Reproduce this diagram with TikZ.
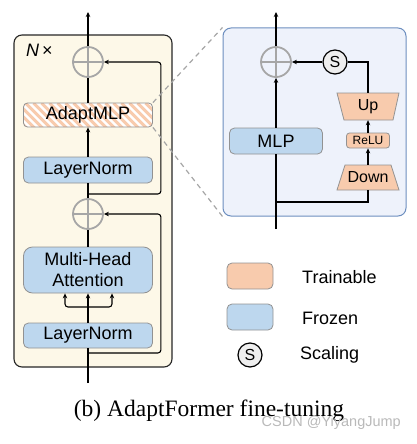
\documentclass[tikz,border=0pt]{standalone}
\usepackage{fontspec}
\setmainfont{Liberation Sans}
\newfontfamily\capfont{Liberation Serif}
\usetikzlibrary{arrows.meta}
\definecolor{cream}{HTML}{FDF8E8}
\definecolor{frozenblue}{HTML}{BDD7EE}
\definecolor{trainorange}{HTML}{F8CBAD}
\definecolor{boxedge}{HTML}{929292}
\definecolor{panelfill}{HTML}{EEF2FB}
\definecolor{paneledge}{HTML}{6C8EBF}
\definecolor{plusgray}{HTML}{A6A6A6}
\definecolor{sfill}{HTML}{EEEEEE}
\tikzset{
  conn/.style={line width=1.1pt, draw=black},
  arr/.style={conn, -{Stealth[length=5pt,width=4.5pt]}},
  plusnode/.style={circle, minimum size=30pt, inner sep=0pt, draw=plusgray, line width=1.8pt,
    path picture={\draw[plusgray, line width=1.8pt]
      (path picture bounding box.north) -- (path picture bounding box.south)
      (path picture bounding box.west) -- (path picture bounding box.east);}},
  bigfont/.style={font=\fontsize{18}{21}\selectfont},
  frozen/.style={draw=boxedge, fill=frozenblue, rounded corners=5pt, line width=0.8pt, inner sep=0pt, bigfont},
  trainbox/.style={draw=boxedge, fill=trainorange, line width=0.8pt},
  hatchbox/.style={draw=boxedge, fill=white, rounded corners=4pt, line width=0.8pt, inner sep=0pt, bigfont,
    minimum width=129pt, minimum height=24pt,
    path picture={\foreach \i in {-30,-22,...,140} {\draw[trainorange, line width=3pt]
      ([xshift=\i pt]path picture bounding box.north west) -- ++(26pt,-26pt);}}},
  blockst/.style={draw=black!85, line width=1.1pt, fill=cream, rounded corners=8pt, inner sep=0pt},
  panelst/.style={draw=paneledge, line width=1pt, fill=panelfill, rounded corners=8pt, inner sep=0pt},
  scircle/.style={circle, draw=black, line width=1.2pt, fill=sfill, minimum size=24pt, inner sep=0pt, font=\fontsize{16}{16}\selectfont},
  dashln/.style={draw=plusgray, line width=1.2pt, dash pattern=on 5pt off 4pt},
  legtext/.style={anchor=west, bigfont, inner sep=0pt},
}
\begin{document}
\begin{tikzpicture}[x=1pt,y=-1pt]
\useasboundingbox (0,0) rectangle (417,444);
% panels
\node[blockst, minimum width=158pt, minimum height=332pt] (blk) at (93,201) {};
\node[panelst, minimum width=183pt, minimum height=188pt] (pan) at (314.5,122) {};
\node[anchor=west, bigfont, inner sep=0pt] (nx) at (26,50) {\textit{N}\,×};

% left column
\node[plusnode] (p1) at (88,62) {};
\node[plusnode] (p2) at (88,214) {};
\node[hatchbox] (adapt) at (88,115) {AdaptMLP};
\node[frozen, minimum width=129pt, minimum height=26pt] (ln2) at (88,170) {LayerNorm};
\node[frozen, minimum width=129pt, minimum height=46pt, rounded corners=9pt, align=center] (att) at (88,270) {Multi-Head\\Attention};
\node[frozen, minimum width=129pt, minimum height=25pt] (ln1) at (88,335.5) {LayerNorm};

\coordinate (in) at (88,383);
\coordinate (out) at (88,12);
\coordinate (s2) at (88,353);
\coordinate (s1) at (88,194);
\coordinate (sp) at (88,307);

\draw[conn] (in) -- (ln1.south);
\draw[arr] (ln1.north) -- (att.south);
\draw[arr, rounded corners=3pt] (sp) -| ([xshift=-23pt]att.south);
\draw[arr, rounded corners=3pt] (sp) -| ([xshift=24pt]att.south);
\draw[conn] (att.north) -- (p2.south);
\draw[conn] (p2.north) -- (ln2.south);
\draw[arr] (ln2.north) -- (adapt.south);
\draw[conn] (adapt.north) -- (p1.south);
\draw[arr] (p1.north) -- (out);
\draw[arr, rounded corners=3pt] (s2) -| ([xshift=57pt]p2.east) -- (p2.east);
\draw[arr, rounded corners=3pt] (s1) -| ([xshift=57pt]p1.east) -- (p1.east);

% dashed zoom lines
\draw[dashln] (adapt.north east) -- (pan.north west);
\draw[dashln] (adapt.south east) -- (pan.south west);

% right column
\node[plusnode] (p3) at (276,62) {};
\node[scircle] (sc) at (335,62) {S};
\node[frozen, minimum width=93pt, minimum height=26pt] (mlp) at (276,141) {MLP};
\draw[trainbox] (337,93) -- (399,93) -- (393,120) -- (344,120) -- cycle;
\node[inner sep=0pt, minimum width=49pt, minimum height=27pt, font=\fontsize{16}{16}\selectfont] (up) at (368,106.5) {Up};
\node[trainbox, rounded corners=3pt, inner sep=0pt, minimum width=43pt, minimum height=15pt, font=\fontsize{12}{12}\selectfont] (relu) at (368,140.5) {ReLU};
\draw[trainbox] (345,165) -- (391,165) -- (399,190) -- (337,190) -- cycle;
\node[inner sep=0pt, minimum width=49pt, minimum height=25pt, font=\fontsize{16}{16}\selectfont] (down) at (368,177.5) {Down};

\coordinate (rin) at (276,229);
\coordinate (rout) at (276,12);
\coordinate (rb) at (276,202);
\draw[conn] (rin) -- (mlp.south);
\draw[arr] (mlp.north) -- (p3.south);
\draw[arr] (p3.north) -- (rout);
\draw[conn] (rb) -| (down.south);
\draw[arr] (down.north) -- (relu.south);
\draw[arr] (relu.north) -- (up.south);
\draw[conn] (up.north) |- (sc.east);
\draw[arr] (sc.west) -- (p3.east);

% legend
\node[trainbox, rounded corners=5pt, minimum width=46pt, minimum height=26pt, inner sep=0pt] (ltr) at (250,276) {};
\node[frozen, minimum width=46pt, minimum height=26pt] (lfr) at (250,317) {};
\node[scircle] (lsc) at (250,355) {S};
\node[legtext] (ttr) at (302,277) {Trainable};
\node[legtext] (tfr) at (302,318) {Frozen};
\node[legtext] (tsc) at (300,355) {Scaling};

% caption
\node[font=\capfont\fontsize{23.5}{24}\selectfont, inner sep=0pt] (cap) at (209,411) {(b) AdaptFormer fine-tuning};
\node[anchor=east, text=gray!55, font=\fontsize{14.5}{15}\selectfont, inner sep=0pt] (wm) at (401,423) {CSDN @YiyangJump};
\end{tikzpicture}
\end{document}
